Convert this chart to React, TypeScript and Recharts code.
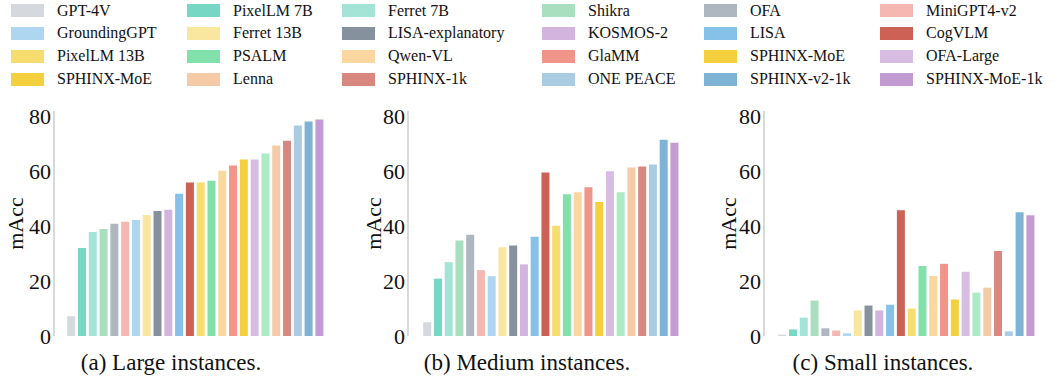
import React from "react";
import { BarChart, Bar, Cell, XAxis, YAxis } from "recharts";

const models = [
  "GPT-4V", "PixelLM 7B", "Ferret 7B", "Shikra", "OFA", "MiniGPT4-v2",
  "GroundingGPT", "Ferret 13B", "LISA-explanatory", "KOSMOS-2", "LISA", "CogVLM",
  "PixelLM 13B", "PSALM", "Qwen-VL", "GlaMM", "SPHINX-MoE", "OFA-Large",
  "SPHINX-MoE", "Lenna", "SPHINX-1k", "ONE PEACE", "SPHINX-v2-1k", "SPHINX-MoE-1k",
];

const barColors = [
  "#d5d8dc", "#76d7c4", "#a3e4d7", "#a9dfbf", "#aeb6bf", "#f5b7b1",
  "#aed6f1", "#f9e79f", "#85929e", "#d2b4de", "#85c1e9", "#cd6155",
  "#f7dc6f", "#82e0aa", "#fad7a0", "#f1948a", "#f4d03f", "#d7bde2",
  "#abebc6", "#f5cba7", "#d98880", "#a9cce3", "#7fb3d5", "#c39bd3",
];

// the legend swatch of the 19th entry differs from its bar in the original
const legendColors = barColors.map((c, i) => (i === 18 ? "#f4d03f" : c));

const large = [
  7.2, 32.1, 37.9, 39.0, 40.9, 41.6, 42.3, 44.1, 45.6, 46.0, 51.8, 55.9,
  55.9, 56.6, 60.2, 62.1, 64.3, 64.3, 66.5, 69.4, 71.2, 76.7, 78.2, 78.9,
];
const medium = [
  5.0, 20.9, 26.9, 34.8, 36.9, 24.0, 21.8, 32.3, 33.0, 26.1, 36.2, 59.6,
  40.2, 51.7, 52.4, 54.2, 48.8, 60.0, 52.4, 61.4, 61.8, 62.5, 71.5, 70.4,
];
const small = [
  0.5, 2.4, 6.7, 12.9, 2.8, 2.0, 1.0, 9.3, 11.1, 9.3, 11.4, 45.8,
  10.0, 25.5, 21.9, 26.3, 13.3, 23.4, 15.8, 17.6, 31.0, 1.7, 45.1, 44.0,
];

const yTicks = [0, 20, 40, 60, 80];
const font = "'Liberation Serif', 'Times New Roman', serif";
const axisColor = "#cccccc";

interface PanelProps {
  values: number[];
  left: number;
  width: number;
  axisWidth: number;
  labelOffset: number;
  padLeft: number;
  padRight: number;
}

const Panel: React.FC<PanelProps> = ({ values, left, width, axisWidth, labelOffset, padLeft, padRight }) => {
  const data = models.map((m, i) => ({ name: m + "-" + i, v: values[i] }));
  return (
    <div style={{ position: "absolute", left, top: 90 }}>
      <BarChart
        width={width}
        height={262}
        data={data}
        margin={{ top: 21, right: 0, bottom: 16, left: 0 }}
        barCategoryGap="11%"
      >
        <XAxis
          dataKey="name"
          tick={false}
          tickLine={false}
          height={0}
          padding={{ left: padLeft, right: padRight }}
          axisLine={{ stroke: axisColor, strokeWidth: 1.5 }}
        />
        <YAxis
          domain={[0, 82]}
          ticks={yTicks}
          interval={0}
          width={axisWidth}
          tickLine={false}
          tickSize={0}
          tickMargin={3}
          axisLine={{ stroke: axisColor, strokeWidth: 1.5 }}
          tick={{ fontSize: 22, fill: "#111", fontFamily: font }}
          label={{
            value: "mAcc",
            angle: -90,
            position: "insideLeft",
            offset: labelOffset,
            style: { textAnchor: "middle", fontSize: 22, fill: "#111", fontFamily: font },
          }}
        />
        <Bar dataKey="v" isAnimationActive={false}>
          {data.map((d, i) => (
            <Cell key={d.name} fill={barColors[i]} />
          ))}
        </Bar>
      </BarChart>
    </div>
  );
};

const legendX = [11, 187, 342, 542, 704, 880];

const Title = ({ text, center }: { text: string; center: number }) => (
  <div
    style={{
      position: "absolute",
      left: center - 150,
      width: 300,
      top: 350,
      lineHeight: "26px",
      textAlign: "center",
      fontSize: 23,
      color: "#111",
      fontFamily: font,
    }}
  >
    {text}
  </div>
);

export default function App() {
  return (
    <div
      style={{
        position: "absolute",
        left: 0,
        top: 0,
        width: 1053,
        height: 379,
        background: "#fff",
        fontFamily: font,
      }}
    >
      {models.map((m, i) => {
        const row = Math.floor(i / 6);
        const col = i % 6;
        const y = 4 + row * 22.9;
        return (
          <React.Fragment key={m + i}>
            <div
              style={{
                position: "absolute",
                left: legendX[col],
                top: y,
                width: 33,
                height: 13,
                background: legendColors[i],
              }}
            />
            <div
              style={{
                position: "absolute",
                left: legendX[col] + 46,
                top: y - 2.5,
                lineHeight: "18px",
                fontSize: 16,
                color: "#111",
                whiteSpace: "nowrap",
              }}
            >
              {m}
            </div>
          </React.Fragment>
        );
      })}

      <Panel values={large} left={0} width={337} axisWidth={54} labelOffset={15} padLeft={12} padRight={12} />
      <Panel values={medium} left={340} width={353} axisWidth={68} labelOffset={33} padLeft={14} padRight={13} />
      <Panel values={small} left={690} width={358} axisWidth={74} labelOffset={38} padLeft={13} padRight={12} />

      <Title text="(a) Large instances." center={171} />
      <Title text="(b) Medium instances." center={527} />
      <Title text="(c) Small instances." center={883} />
    </div>
  );
}
